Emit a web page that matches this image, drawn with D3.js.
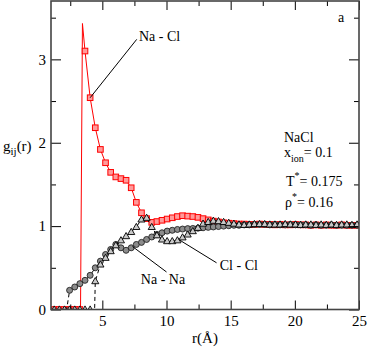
<!DOCTYPE html>
<html><head><meta charset="utf-8">
<script src="https://cdn.jsdelivr.net/npm/d3@7"></script>
<style>
body{margin:0;background:#fff}
svg text{font-family:"Liberation Serif","Times New Roman","Nimbus Roman","DejaVu Serif",serif !important;fill:#000}
</style>
</head><body>
<svg id="c" width="368" height="349"></svg>
<script>
// ---------- data ----------
const rGrid = [1.25,1.65,2.05,2.45,2.85,3.25,3.65,4.05,4.45,4.85,
  5.25,5.65,6.05,6.45,6.85,7.25,7.65,8.05,8.45,8.85,
  9.25,9.65,10.05,10.45,10.85,11.25,11.65,12.05,12.45,12.85,
  13.25,13.65,14.05,14.45,14.85,15.25,15.65,16.05,16.45,16.85,
  17.25,17.65,18.05,18.45,18.85,19.25,19.65,20.05,20.45,20.85,
  21.25,21.65,22.05,22.45,22.85,23.25,23.65,24.05,24.45,24.85];

const naclG = [0,0,0,0,0,0,3.10,2.54,2.18,1.92,
  1.76,1.645,1.59,1.57,1.55,1.46,1.285,1.16,1.09,1.045,
  1.055,1.07,1.085,1.10,1.115,1.125,1.12,1.115,1.105,1.09,
  1.075,1.06,1.05,1.04,1.035,1.03,1.025,1.025,1.02,1.02,
  1.025,1.02,1.02,1.015,1.02,1.015,1.015,1.02,1.015,1.015,
  1.01,1.015,1.01,1.015,1.01,1.01,1.015,1.01,1.01,1.01];
const naclLineR = [3.30,3.45];   // extra line-only points (sharp contact peak)
const naclLineG = [0,3.43];

const nanaG = [null,null,null,0.23,0.27,0.31,0.35,0.41,0.50,0.58,
  0.66,0.72,0.78,0.74,0.71,0.74,0.78,0.805,0.84,0.87,
  0.90,0.92,0.94,0.95,0.96,0.965,0.97,0.972,0.975,0.98,
  0.985,0.99,0.995,1.0,1.005,1.01,1.01,1.015,1.015,1.02,
  1.02,1.02,1.015,1.02,1.015,1.015,1.02,1.015,1.015,1.015,
  1.01,1.015,1.01,1.01,1.015,1.01,1.01,1.01,1.01,1.01];
const nanaLineR = [1.0,2.22];
const nanaLineG = [0,0];

const clclG = [0,0,0,0,0,0,0,0,0.34,0.54,
  0.62,0.70,0.77,0.83,0.88,0.93,0.99,1.08,1.10,0.99,
  0.89,0.84,0.82,0.82,0.83,0.865,0.90,0.94,0.98,1.03,
  1.05,1.065,1.06,1.05,1.04,1.03,1.02,1.015,1.02,1.025,
  1.025,1.025,1.02,1.02,1.02,1.025,1.02,1.02,1.015,1.02,
  1.02,1.015,1.02,1.015,1.02,1.015,1.02,1.02,1.015,1.02];
const clclLineR = [4.40];
const clclLineG = [0];

const xMajor = [5,10,15,20,25];
const xMinor = [2.5,7.5,12.5,17.5,22.5];
const yMajor = [0,1,2,3];
const yMinor = [0.5,1.5,2.5,3.5];
const xDomain = [1,25];
const yDomain = [0,3.7];

// annotations in data coordinates
const labels = [
  {text:"Na - Cl", r:7.85, g:3.22, from:[4.05,2.54], to:[7.68,3.24]},
  {text:"Na - Na", r:8.0,  g:0.31, from:[7.35,0.755], to:[10.0,0.45]},
  {text:"Cl - Cl", r:14.15,g:0.47, from:[11.05,0.83], to:[13.9,0.56]}
];

// ---------- drawing ----------
const FONT = '"Liberation Serif","Times New Roman","Nimbus Roman","DejaVu Serif",serif';
const svg = d3.select("#c");
const L=51, R=359, T=1, B=309.5;
const x = d3.scaleLinear().domain(xDomain).range([L,R]);
const y = d3.scaleLinear().domain(yDomain).range([B,T]);

svg.append("defs").append("clipPath").attr("id","clip")
  .append("rect").attr("x",L).attr("y",T).attr("width",R-L).attr("height",B-T);

function build(g, extraR, extraG){
  const pts = rGrid.map((r,i)=>({r, g:g[i], m:true})).filter(d=>d.g!==null);
  extraR.forEach((r,i)=>pts.push({r, g:extraG[i], m:false}));
  pts.sort((a,b)=>a.r-b.r);
  return pts;
}
const nacl = build(naclG, naclLineR, naclLineG);
const nana = build(nanaG, nanaLineR, nanaLineG);
const clcl = build(clclG, clclLineR, clclLineG);

const line = d3.line().x(d=>x(d.r)).y(d=>y(d.g));
const plot = svg.append("g").attr("clip-path","url(#clip)");

// Na-Cl
plot.append("path").datum(nacl).attr("d",line)
  .attr("fill","none").attr("stroke","#ff0000").attr("stroke-width",1);
plot.selectAll(".sq").data(nacl.filter(d=>d.m)).join("rect")
  .attr("x",d=>x(d.r)-2.8).attr("y",d=>y(d.g)-2.8).attr("width",5.6).attr("height",5.6)
  .attr("fill","#ff9a9a").attr("stroke","#ff0000").attr("stroke-width",1);

// Na-Na
plot.append("path").datum(nana).attr("d",line)
  .attr("fill","none").attr("stroke","#000").attr("stroke-width",1).attr("stroke-dasharray","4,3");
plot.selectAll(".ci").data(nana.filter(d=>d.m)).join("circle")
  .attr("cx",d=>x(d.r)).attr("cy",d=>y(d.g)).attr("r",3)
  .attr("fill","#8c8c8c").attr("stroke","#222").attr("stroke-width",0.9);

// Cl-Cl
plot.append("path").datum(clcl).attr("d",line)
  .attr("fill","none").attr("stroke","#000").attr("stroke-width",1).attr("stroke-dasharray","4,3");
const tri = d3.symbol().type(d3.symbolTriangle).size(22);
plot.selectAll(".tr").data(clcl.filter(d=>d.m)).join("path")
  .attr("d",tri).attr("transform",d=>`translate(${x(d.r)},${y(d.g)+0.5})`)
  .attr("fill","#c8c8c8").attr("stroke","#000").attr("stroke-width",0.9);

// axes
function styleAxis(g){
  g.attr("font-family",FONT);
  g.select(".domain").remove();
  g.selectAll("line").attr("stroke","#000").attr("stroke-width",1);
  g.selectAll("text").attr("font-size","15px").style("font-family",FONT);
}
svg.append("g").attr("transform",`translate(0,${B})`)
  .call(d3.axisBottom(x).tickValues(xMajor).tickSize(-9).tickPadding(6).tickFormat(d3.format("d"))).call(styleAxis);
svg.append("g").attr("transform",`translate(0,${B})`)
  .call(d3.axisBottom(x).tickValues(xMinor).tickSize(-5).tickFormat("")).call(styleAxis);
svg.append("g").attr("transform",`translate(0,${T})`)
  .call(d3.axisTop(x).tickValues(xMajor).tickSize(-9).tickFormat("")).call(styleAxis);
svg.append("g").attr("transform",`translate(0,${T})`)
  .call(d3.axisTop(x).tickValues(xMinor).tickSize(-5).tickFormat("")).call(styleAxis);
svg.append("g").attr("transform",`translate(${L},0)`)
  .call(d3.axisLeft(y).tickValues(yMajor).tickSize(-10).tickPadding(5).tickFormat(d3.format("d"))).call(styleAxis);
svg.append("g").attr("transform",`translate(${L},0)`)
  .call(d3.axisLeft(y).tickValues(yMinor).tickSize(-5).tickFormat("")).call(styleAxis);
svg.append("g").attr("transform",`translate(${R},0)`)
  .call(d3.axisRight(y).tickValues(yMajor).tickSize(-10).tickFormat("")).call(styleAxis);
svg.append("g").attr("transform",`translate(${R},0)`)
  .call(d3.axisRight(y).tickValues(yMinor).tickSize(-5).tickFormat("")).call(styleAxis);

// frame
svg.append("rect").attr("x",L).attr("y",T).attr("width",R-L).attr("height",B-T)
  .attr("fill","none").attr("stroke","#444").attr("stroke-width",1.6);

const txt = (sel)=>sel.append("text").style("font-family",FONT);

// pointer lines + labels
labels.forEach(l=>{
  svg.append("line").attr("x1",x(l.from[0])).attr("y1",y(l.from[1]))
    .attr("x2",x(l.to[0])).attr("y2",y(l.to[1])).attr("stroke","#000").attr("stroke-width",1);
  txt(svg).attr("x",x(l.r)).attr("y",y(l.g)).attr("font-size","14px").text(l.text);
});

// axis titles
const yl = txt(svg).attr("x",3).attr("y",151).attr("font-size","15px");
yl.append("tspan").text("g");
yl.append("tspan").attr("font-size","11px").attr("dy",4).text("ij");
yl.append("tspan").attr("dy",-4).text("(r)");
txt(svg).attr("x",205).attr("y",343).attr("text-anchor","middle").attr("font-size","15px").text("r(Å)");

// panel letter
txt(svg).attr("x",338).attr("y",22).attr("font-size","14px").text("a");

// state annotation
const ax = 284;
txt(svg).attr("x",ax).attr("y",142).attr("font-size","14px").text("NaCl");
const t1 = txt(svg).attr("x",ax).attr("y",157).attr("font-size","14px");
t1.append("tspan").text("x");
t1.append("tspan").attr("font-size","10px").attr("dy",5).text("ion");
t1.append("tspan").attr("dy",-5).text("= 0.1");
const t2 = txt(svg).attr("x",ax+2).attr("y",186).attr("font-size","14px");
t2.append("tspan").text("T");
t2.append("tspan").attr("font-size","10px").attr("dy",-7).text("*");
t2.append("tspan").attr("dy",7).text("= 0.175");
const t3 = txt(svg).attr("x",ax+1).attr("y",207).attr("font-size","14px");
t3.append("tspan").text("ρ");
t3.append("tspan").attr("font-size","10px").attr("dy",-7).text("*");
t3.append("tspan").attr("dy",7).text("= 0.16");
</script>
</body></html>
